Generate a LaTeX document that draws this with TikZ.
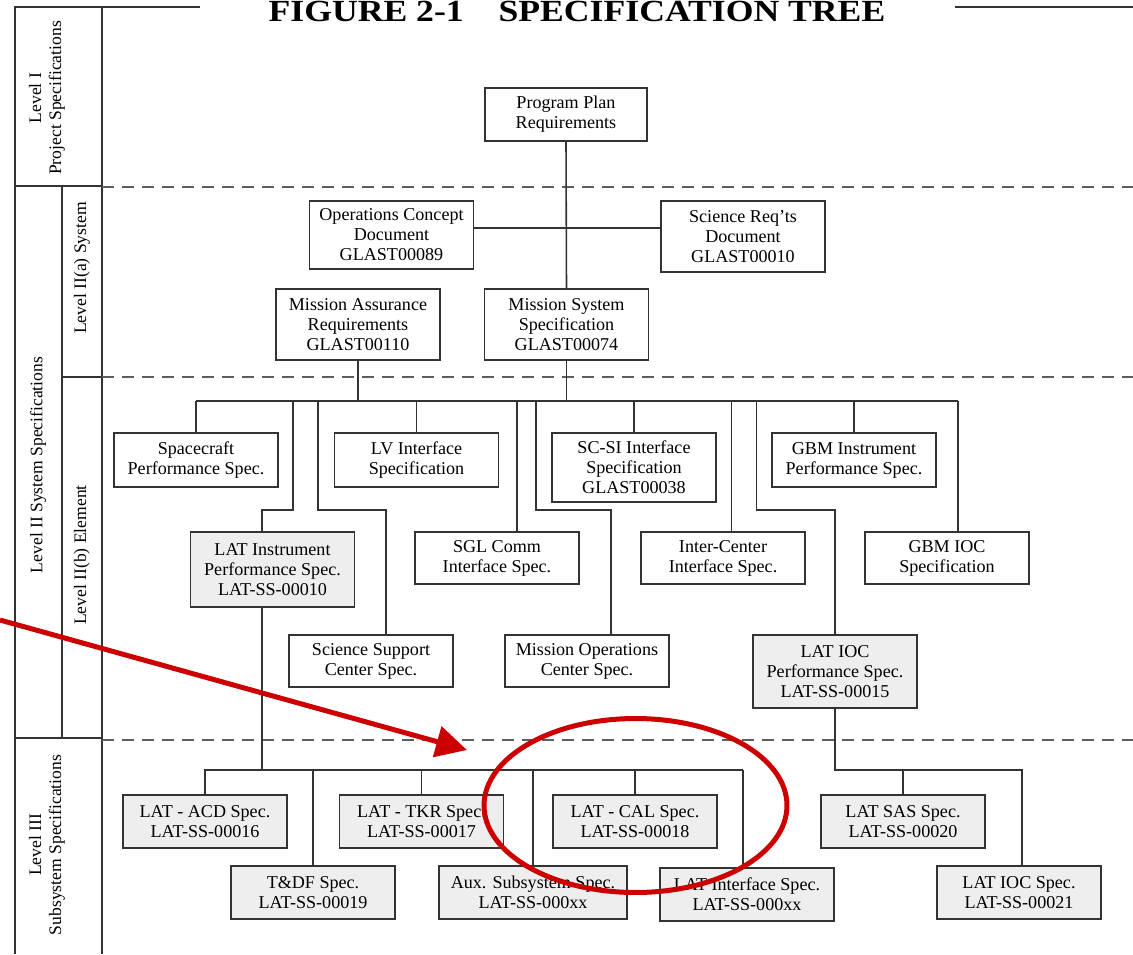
\documentclass[tikz,border=0pt]{standalone}
\usepackage{fontspec}
\setmainfont{Liberation Serif}
\usetikzlibrary{arrows.meta,positioning}

\definecolor{inkgray}{HTML}{333333}
\definecolor{dashgray}{HTML}{5E5E5E}
\definecolor{latfill}{HTML}{EEEEEE}
\definecolor{markred}{HTML}{CC0000}

\begin{document}
\begin{tikzpicture}[x=0.02cm, y=-0.02cm,
    spec/.style={draw=inkgray, line width=0.9pt, align=center, inner sep=0pt,
        font=\fontsize{10.3}{11.4}\selectfont, minimum width=3.28cm},
    latspec/.style={spec, fill=latfill},
    link/.style={draw=inkgray, line width=0.9pt},
    tierline/.style={draw=dashgray, line width=0.9pt, dash pattern=on 0.24cm off 0.16cm},
    tier/.style={rotate=90, align=center, font=\fontsize{10}{11.4}\selectfont},
    redmark/.style={draw=markred, line width=0.1cm}]
    \useasboundingbox (0,0) rectangle (1133,954);

    % Title and frame
    \node[anchor=base, font=\bfseries\fontsize{17.5}{20}\selectfont] (title) at (577,21.5)
        {\scalebox{1.16}[1]{FIGURE 2-1\hspace{0.6cm}SPECIFICATION TREE}};
    \draw[link] (200,7) -- (15,7) -- (15,954);
    \draw[link] (102,7) -- (102,954);
    \draw[link] (955,7) -- (1133,7);
    \draw[link] (15,186) -- (102,186);
    \draw[link] (62,186) -- (62,738);
    \draw[link] (62,377) -- (102,377);
    \draw[link] (15,738) -- (102,738);
    \draw[tierline] (102,187) -- (1133,187);
    \draw[tierline] (102,377) -- (1133,377);
    \draw[tierline] (102,740) -- (1133,740);

    % Level labels
    \node[tier] (lvlI) at (47,98) {Level I\\Project Specifications};
    \node[tier] (lvlII) at (38,465) {Level II System Specifications};
    \node[tier] (lvlIIa) at (82,268) {Level II(a) System};
    \node[tier] (lvlIIb) at (82,555) {Level II(b) Element};
    \node[tier] (lvlIII) at (47,845) {Level III\\Subsystem Specifications};

    % Level I and II(a)
    \node[spec, minimum width=3.24cm, minimum height=1.06cm] (prog) at (566,114.5) {Program Plan\\Requirements};
    \node[spec, minimum height=1.36cm] (ocd) at (391.5,235) {Operations Concept\\Document\\GLAST00089};
    \node[spec, minimum height=1.42cm] (sci) at (743,236.5) {Science Req'ts\\Document\\GLAST00010};
    \node[spec, minimum height=1.42cm] (mar) at (358,324.5) {Mission Assurance\\Requirements\\GLAST00110};
    \node[spec, minimum height=1.42cm] (mss) at (566.5,324.5) {Mission System\\Specification\\GLAST00074};

    % Level II(b)
    \node[spec, minimum height=1.08cm] (sc) at (196,460) {Spacecraft\\Performance Spec.};
    \node[spec, minimum height=1.08cm] (lv) at (416.5,460) {LV Interface\\Specification};
    \node[spec, minimum height=1.38cm] (scsi) at (634,467.5) {SC-SI Interface\\Specification\\GLAST00038};
    \node[spec, minimum height=1.08cm] (gbmi) at (854,460) {GBM Instrument\\Performance Spec.};
    \node[latspec, minimum height=1.5cm] (lati) at (272.5,569.5) {LAT Instrument\\Performance Spec.\\LAT-SS-00010};
    \node[spec, minimum height=1.04cm] (sgl) at (497,558) {SGL Comm\\Interface Spec.};
    \node[spec, minimum height=1.04cm] (ic) at (723,558) {Inter-Center\\Interface Spec.};
    \node[spec, minimum height=1.04cm] (gioc) at (947,558) {GBM IOC\\Specification};
    \node[spec, minimum height=1.04cm] (ssc) at (371,661) {Science Support\\Center Spec.};
    \node[spec, minimum height=1.04cm] (moc) at (587,661) {Mission Operations\\Center Spec.};
    \node[latspec, minimum height=1.46cm] (iocp) at (835,671.5) {LAT IOC\\Performance Spec.\\LAT-SS-00015};

    % Level III
    \node[latspec, minimum height=1.06cm] (acd) at (205,821.5) {LAT - ACD Spec.\\LAT-SS-00016};
    \node[latspec, minimum height=1.06cm] (tkr) at (421.5,821.5) {LAT - TKR Spec.\\LAT-SS-00017};
    \node[latspec, minimum height=1.06cm] (cal) at (635,821.5) {LAT - CAL Spec.\\LAT-SS-00018};
    \node[latspec, minimum height=1.06cm] (sas) at (903,821.5) {LAT SAS Spec.\\LAT-SS-00020};
    \node[latspec, minimum height=1.06cm] (tdf) at (313,892.5) {T\&DF Spec.\\LAT-SS-00019};
    \node[latspec, minimum width=3.76cm, minimum height=1.06cm] (aux) at (533,892.5) {Aux. Subsystem Spec.\\LAT-SS-000xx};
    \node[latspec, minimum width=3.48cm, minimum height=1.06cm] (lif) at (747,894.5) {LAT Interface Spec.\\LAT-SS-000xx};
    \node[latspec, minimum height=1.06cm] (iocs) at (1019,892.5) {LAT IOC Spec.\\LAT-SS-00021};

    % Level I to II(a)
    \draw[link] (prog.south) -- (mss.north);
    \coordinate (ocdrow) at (0,228);
    \draw[link] (ocd.east |- ocdrow) -- (sci.west |- ocdrow);

    % Element bus
    \coordinate (busW) at (196,401);
    \coordinate (busE) at (958,401);
    \draw[link] (busW) -- (busE);
    \draw[link] (mar.south) -- (mar.south |- busE);
    \draw[link] (mss.south) -- (mss.south |- busE);
    \draw[link] (sc.north) -- (sc.north |- busE);
    \draw[link] (lv.north) -- (lv.north |- busE);
    \draw[link] ([xshift=0.4cm]sgl.north) -- ([xshift=0.4cm]sgl.north |- busE);
    \draw[link] (scsi.north) -- (scsi.north |- busE);
    \draw[link] ([xshift=0.17cm]ic.north) -- ([xshift=0.17cm]ic.north |- busE);
    \draw[link] (gbmi.north) -- (gbmi.north |- busE);
    \draw[link] (busE) -- (busE |- gioc.north);

    % Jogged drops
    \coordinate (jogA) at (293,510);
    \coordinate (jogB) at (318,510);
    \coordinate (jogC) at (536,510);
    \coordinate (jogD) at (756.5,510);
    \draw[link] ([xshift=-0.21cm]lati.north) |- (jogA) -- (jogA |- busE);
    \draw[link] ([xshift=0.3cm]ssc.north) |- (jogB) -- (jogB |- busE);
    \draw[link] ([xshift=0.48cm]moc.north) |- (jogC) -- (jogC |- busE);
    \draw[link] (iocp.north) |- (jogD) -- (jogD |- busE);

    % Subsystem buses
    \coordinate (subW) at (204,770);
    \coordinate (subE) at (743,770);
    \draw[link] (subW) -- (subE);
    \draw[link] ([xshift=-0.21cm]lati.south) -- ([xshift=-0.21cm]lati.south |- subE);
    \draw[link] (acd.north) -- (acd.north |- subE);
    \draw[link] (tdf.north) -- (tdf.north |- subE);
    \draw[link] (tkr.north) -- (tkr.north |- subE);
    \draw[link] (aux.north) -- (aux.north |- subE);
    \draw[link] (cal.north) -- (cal.north |- subE);
    \draw[link] (subE) -- (subE |- lif.north);
    \coordinate (iocbus) at (1022,770);
    \draw[link] (iocp.south) |- (iocbus) -- (iocbus |- iocs.north);
    \draw[link] (sas.north) -- (sas.north |- iocbus);

    % Red marks
    \coordinate (redtail) at (0,620);
    \coordinate (redtip) at (467,750);
    \coordinate (redring) at (635.5,805.5);
    \draw[redmark, -{Triangle[length=0.62cm, width=0.62cm]}] (redtail) -- (redtip);
    \draw[redmark] (redring) ellipse [x radius=3.03cm, y radius=1.74cm];
\end{tikzpicture}
\end{document}
